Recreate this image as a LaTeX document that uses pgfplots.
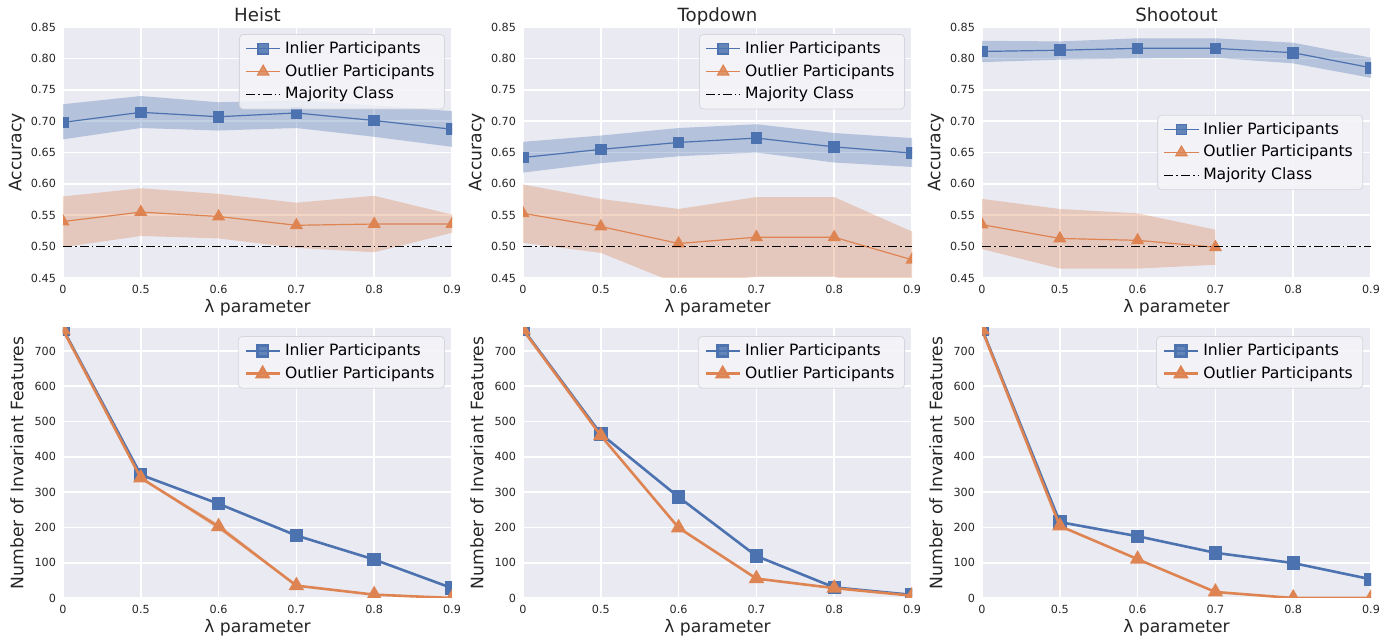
\documentclass[border=0pt]{standalone}
\usepackage{fontspec}
\setmainfont{DejaVu Sans}
\usepackage{pgfplots}
\pgfplotsset{compat=1.18}
\definecolor{sbblue}{HTML}{4C72B0}
\definecolor{sborange}{HTML}{DD8452}
\definecolor{sbbg}{HTML}{EAEAF2}
\definecolor{sbtext}{HTML}{262626}
\definecolor{legedge}{HTML}{D6D6DE}
\pgfplotsset{
  sbase/.style={
    scale only axis, width=194.5pt, anchor=south west,
    axis background/.style={fill=sbbg},
    axis line style={draw=none},
    major tick length=0pt,
    grid=major, major grid style={white, line width=0.8pt},
    clip marker paths=true,
    xmin=0, xmax=5, xtick={0,1,2,3,4,5},
    xticklabels={0,0.5,0.6,0.7,0.8,0.9},
    tick label style={font=\fontsize{5.6}{6.5}\selectfont, text=sbtext},
    label style={font=\fontsize{8.6}{10}\selectfont, text=sbtext},
    title style={font=\fontsize{9.1}{11}\selectfont, text=sbtext, anchor=base, yshift=2.5pt},
    every axis title shift=0pt,
    xlabel={λ parameter},
    xlabel style={at={(rel axis cs:0.5,0)}, anchor=center, yshift=-15pt},
    ylabel style={at={(rel axis cs:0,0.5)}, anchor=center, yshift=23pt},
    /pgf/number format/assume math mode=true,
    legend style={font=\fontsize{7.8}{9.4}\selectfont, fill=sbbg!50!white, fill opacity=0.85, text opacity=1,
      draw=legedge, rounded corners=2pt, row sep=3pt, inner xsep=3pt, inner ysep=3pt,
      nodes={inner ysep=0.5pt}},
    legend cell align=left,
  },
  acc/.style={sbase, height=125.5pt, ymin=0.45, ymax=0.85,
    ytick={0.45,0.50,0.55,0.60,0.65,0.70,0.75,0.80,0.85},
    yticklabel style={/pgf/number format/.cd, fixed, fixed zerofill, precision=2},
    ylabel={Accuracy}},
  feat/.style={sbase, height=135pt, ymin=0, ymax=765,
    ytick={0,100,200,300,400,500,600,700},
    ylabel={Number of Invariant Features}},
  inlA/.style={sbblue, line width=0.6pt, mark=square*, mark size=2.6pt, mark options={solid}},
  outA/.style={sborange, line width=0.6pt, mark=triangle*, mark size=3.2pt, mark options={solid}},
  inlB/.style={sbblue, line width=1.3pt, mark=square*, mark size=2.7pt, mark options={solid}},
  outB/.style={sborange, line width=1.3pt, mark=triangle*, mark size=3.2pt, mark options={solid}},
  bandB/.style={fill=sbblue, fill opacity=0.33, draw=none, forget plot},
  bandO/.style={fill=sborange, fill opacity=0.33, draw=none, forget plot},
  major/.style={black, line width=0.75pt, dash pattern=on 4.5pt off 1.5pt on 0.8pt off 1.5pt},
}
\begin{document}
\begin{tikzpicture}
\useasboundingbox (0,0) rectangle (700pt,320.5pt);
% ---------------- Heist accuracy
\begin{axis}[acc, at={(31.5pt,181.5pt)}, title={Heist},
  legend style={at={(0.982,0.972)}, anchor=north east}]
\addplot[bandB] coordinates {(0,0.727) (1,0.740) (2,0.730) (3,0.733) (4,0.725) (5,0.716)
  (5,0.659) (4,0.675) (3,0.689) (2,0.685) (1,0.689) (0,0.671)};
\addplot[bandO] coordinates {(0,0.580) (1,0.593) (2,0.584) (3,0.570) (4,0.581) (5,0.551)
  (5,0.522) (4,0.491) (3,0.498) (2,0.513) (1,0.517) (0,0.499)};
\addplot[inlA] coordinates {(0,0.698) (1,0.714) (2,0.707) (3,0.713) (4,0.701) (5,0.687)};
\addlegendentry{Inlier Participants}
\addplot[outA] coordinates {(0,0.540) (1,0.555) (2,0.548) (3,0.534) (4,0.536) (5,0.536)};
\addlegendentry{Outlier Participants}
\addplot[major] coordinates {(0,0.5) (5,0.5)};
\addlegendentry{Majority Class}
\end{axis}
% ---------------- Topdown accuracy
\begin{axis}[acc, at={(261.5pt,181.5pt)}, title={Topdown},
  legend style={at={(0.982,0.972)}, anchor=north east}]
\addplot[bandB] coordinates {(0,0.667) (1,0.677) (2,0.689) (3,0.695) (4,0.681) (5,0.673)
  (5,0.627) (4,0.634) (3,0.650) (2,0.644) (1,0.633) (0,0.618)};
\addplot[bandO] coordinates {(0,0.599) (1,0.576) (2,0.560) (3,0.579) (4,0.579) (5,0.524)
  (5,0.420) (4,0.452) (3,0.452) (2,0.440) (1,0.490) (0,0.506)};
\addplot[inlA] coordinates {(0,0.642) (1,0.655) (2,0.666) (3,0.673) (4,0.659) (5,0.649)};
\addlegendentry{Inlier Participants}
\addplot[outA] coordinates {(0,0.553) (1,0.532) (2,0.505) (3,0.515) (4,0.515) (5,0.479)};
\addlegendentry{Outlier Participants}
\addplot[major] coordinates {(0,0.5) (5,0.5)};
\addlegendentry{Majority Class}
\end{axis}
% ---------------- Shootout accuracy
\begin{axis}[acc, at={(491pt,181.5pt)}, title={Shootout},
  legend style={at={(0.98,0.5)}, anchor=east}]
\addplot[bandB] coordinates {(0,0.828) (1,0.827) (2,0.832) (3,0.832) (4,0.825) (5,0.801)
  (5,0.769) (4,0.792) (3,0.801) (2,0.800) (1,0.798) (0,0.794)};
\addplot[bandO] coordinates {(0,0.576) (1,0.560) (2,0.553) (3,0.527)
  (3,0.471) (2,0.465) (1,0.465) (0,0.496)};
\addplot[inlA] coordinates {(0,0.811) (1,0.813) (2,0.816) (3,0.816) (4,0.809) (5,0.785)};
\addlegendentry{Inlier Participants}
\addplot[outA] coordinates {(0,0.535) (1,0.513) (2,0.510) (3,0.499)};
\addlegendentry{Outlier Participants}
\addplot[major] coordinates {(0,0.5) (5,0.5)};
\addlegendentry{Majority Class}
\end{axis}
% ---------------- Heist features
\begin{axis}[feat, at={(31.5pt,21.5pt)},
  legend style={at={(0.982,0.97)}, anchor=north east}]
\addplot[bandO] coordinates {(1,342) (2,210) (3,38) (3,33) (2,194) (1,338)};
\addplot[inlB] coordinates {(0,762) (1,349) (2,267) (3,177) (4,109) (5,28)};
\addlegendentry{Inlier Participants}
\addplot[outB] coordinates {(0,760) (1,340) (2,202) (3,35) (4,9.5) (5,0)};
\addlegendentry{Outlier Participants}
\end{axis}
% ---------------- Topdown features
\begin{axis}[feat, at={(261.5pt,21.5pt)},
  legend style={at={(0.982,0.97)}, anchor=north east}]
\addplot[inlB] coordinates {(0,762) (1,465) (2,286) (3,119) (4,30) (5,9)};
\addlegendentry{Inlier Participants}
\addplot[outB] coordinates {(0,760) (1,460) (2,199) (3,55) (4,28) (5,6.6)};
\addlegendentry{Outlier Participants}
\end{axis}
% ---------------- Shootout features
\begin{axis}[feat, at={(491pt,21.5pt)},
  legend style={at={(0.98,0.97)}, anchor=north east}]
\addplot[inlB] coordinates {(0,762) (1,215) (2,175) (3,128) (4,99) (5,53)};
\addlegendentry{Inlier Participants}
\addplot[outB] coordinates {(0,760) (1,204) (2,110) (3,17) (4,0) (5,0)};
\addlegendentry{Outlier Participants}
\end{axis}
\end{tikzpicture}
\end{document}
